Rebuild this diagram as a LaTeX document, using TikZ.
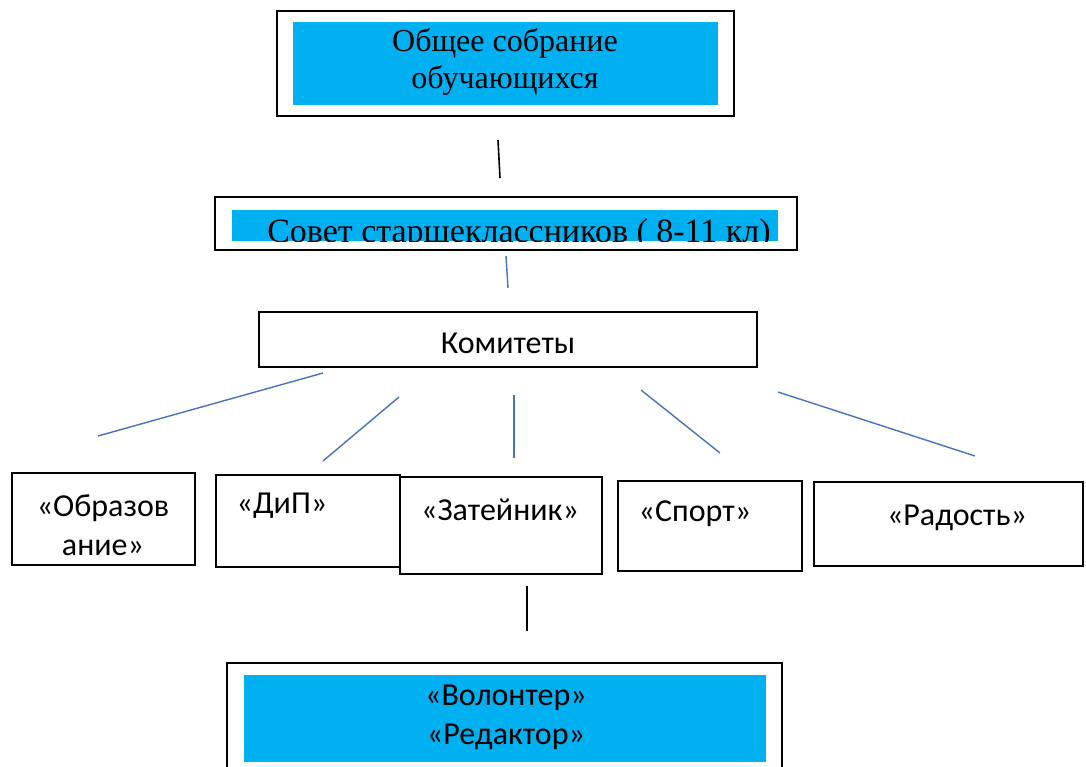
\documentclass[tikz,border=0pt]{standalone}
\usepackage{fontspec}
\setmainfont{Liberation Serif}
\newfontfamily\carlito{Carlito}
\usepackage{xcolor}
\usetikzlibrary{positioning}
\definecolor{fillblue}{HTML}{00B0F0}
\definecolor{lineblue}{HTML}{4472C4}

\begin{document}
\begin{tikzpicture}[
    x=0.5pt, y=-0.5pt,
    box/.style={draw, line width=0.9pt, inner sep=0pt},
    band/.style={fill=fillblue, inner sep=0pt, align=center},
    serif/.style={font=\fontsize{16}{18.5}\selectfont},
    sans/.style={font=\carlito\fontsize{16}{19.5}\selectfont, inner sep=0pt, align=center},
    link/.style={lineblue, line width=0.7pt},
    stem/.style={black, line width=0.8pt}
]
\useasboundingbox (0,0) rectangle (1086,766);

% Nodes
\node[box, minimum width=228.5pt, minimum height=52.5pt] (sobr) at (505.5,63.5) {};
\node[band, minimum width=212.5pt, minimum height=41.5pt] (sobrfill) at (505.5,63.5) {};
\node[serif, inner sep=0pt, align=center] (sobrtxt) at (505,62) {Общее собрание\\обучающихся};

\node[box, minimum width=291pt, minimum height=26.5pt] (sovet) at (506,223.5) {};
\node[band, minimum width=273pt, minimum height=15.5pt] (sovetfill) at (505,225.5) {};
\begin{scope}
  \clip (sovetfill.south west) rectangle (sovetfill.north east);
  \node[font=\fontsize{17}{20}\selectfont, anchor=base, inner sep=0pt] (sovettxt) at (519,242) {Совет старшеклассников ( 8-11 кл)};
\end{scope}

\node[box, minimum width=249pt, minimum height=27.5pt] (komit) at (508,339.5) {};
\node[sans] (komittxt) at (508,343) {Комитеты};

\node[box, minimum width=91.5pt, minimum height=46pt] (obraz) at (103.5,519) {};
\node[sans] (obraztxt) at (103,525) {«Образов\\ание»};
\node[box, minimum width=92pt, minimum height=46pt] (dip) at (308,521) {};
\node[sans] (diptxt) at (282,506) {«ДиП»};
\node[box, minimum width=101pt, minimum height=48.5pt] (zat) at (501,525.5) {};
\node[sans] (zattxt) at (500,510) {«Затейник»};
\node[box, minimum width=92pt, minimum height=45pt] (sport) at (710,526) {};
\node[sans] (sporttxt) at (695,514) {«Спорт»};
\node[box, minimum width=134.5pt, minimum height=42pt] (rad) at (948.5,524) {};
\node[sans] (radtxt) at (957,518) {«Радость»};

\node[box, minimum width=277.5pt, minimum height=56pt] (volont) at (504.5,719) {};
\node[band, minimum width=261pt, minimum height=43.5pt] (volontfill) at (505,718.5) {};
\node[sans] (volonttxt) at (506,717) {«Волонтер»\\«Редактор»};

% Edges
\coordinate (s1a) at (498,140); \coordinate (s1b) at (500,178);
\coordinate (s2a) at (506,256); \coordinate (s2b) at (508,288);
\coordinate (s3a) at (527,586); \coordinate (s3b) at (527,631);
\draw[stem] (s1a) -- (s1b);
\draw[link] (s2a) -- (s2b);
\draw[stem] (s3a) -- (s3b);

\coordinate (k1a) at (323,373); \coordinate (k1b) at (98,436);
\coordinate (k2a) at (399,397); \coordinate (k2b) at (323,461);
\coordinate (k3a) at (514,395); \coordinate (k3b) at (514,458);
\coordinate (k4a) at (641,390); \coordinate (k4b) at (720,453);
\coordinate (k5a) at (778,392); \coordinate (k5b) at (975,456);
\draw[link] (k1a) -- (k1b);
\draw[link] (k2a) -- (k2b);
\draw[link] (k3a) -- (k3b);
\draw[link] (k4a) -- (k4b);
\draw[link] (k5a) -- (k5b);

\end{tikzpicture}
\end{document}
